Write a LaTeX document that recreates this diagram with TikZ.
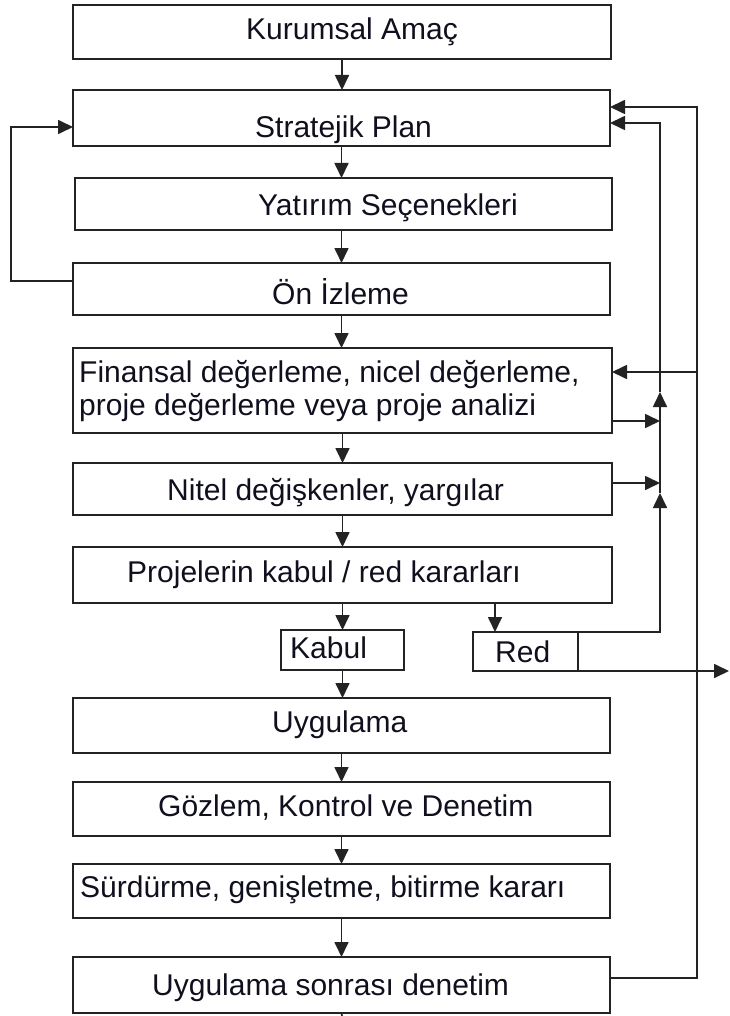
\documentclass[tikz,border=0pt]{standalone}
\usepackage{fontspec}
\setmainfont{Liberation Sans}
\usetikzlibrary{arrows.meta,calc}
\definecolor{linec}{RGB}{35,35,35}
\definecolor{txtc}{RGB}{15,15,30}
\newcommand{\bx}[5]{\node[box, minimum width={#4-#2}, minimum height={#5-#3}] (#1) at ({(#2+#4)/2},{(#3+#5)/2}) {};}
\begin{document}
\begin{tikzpicture}[x=1pt,y=-1pt,
  box/.style={draw=linec, line width=1.7pt, inner sep=0pt, outer sep=0pt, rectangle},
  txt/.style={anchor=base west, inner sep=0pt, font=\fontsize{30}{34}\selectfont, text=txtc},
  arr/.style={draw=linec, line width=1.7pt, -{Triangle[length=15pt,width=14pt]}},
  ln/.style={draw=linec, line width=1.7pt}]
\useasboundingbox (0,0) rectangle (729,1016);
% boxes
\bx{b1}{73}{5}{611}{59}
\bx{b2}{73}{90}{610}{146}
\bx{b3}{75}{178}{612}{230}
\bx{b4}{73}{263}{610}{315}
\bx{b5}{73}{348}{612}{433}
\bx{b6}{73}{463}{612}{515}
\bx{b7}{73}{547}{612}{603}
\bx{kabul}{281}{630}{404}{670}
\bx{red}{473}{632}{578}{671}
\bx{b8}{73}{698}{610}{753}
\bx{b9}{73}{782}{610}{836}
\bx{b10}{73}{864}{610}{918}
\bx{b11}{73}{957}{610}{1013}
% texts
\node[txt] (t1) at (246,40) {Kurumsal Amaç};
\node[txt] (t2) at (255,138) {Stratejik Plan};
\node[txt] (t3) at (258,215) {Yatırım Seçenekleri};
\node[txt] (t4) at (272,304) {Ön İzleme};
\node[txt] (t5a) at (79,382) {Finansal değerleme, nicel değerleme,};
\node[txt] (t5b) at (79,415) {proje değerleme veya proje analizi};
\node[txt] (t6) at (167,500) {Nitel değişkenler, yargılar};
\node[txt] (t7) at (127,582) {Projelerin kabul / red kararları};
\node[txt] (tk) at (290,658) {Kabul};
\node[txt] (tr) at (495,662) {Red};
\node[txt] (t8) at (272,732) {Uygulama};
\node[txt] (t9) at (158,816) {Gözlem, Kontrol ve Denetim};
\node[txt] (t10) at (80,897) {Sürdürme, genişletme, bitirme kararı};
\node[txt] (t11) at (152,995) {Uygulama sonrası denetim};
% coordinates
\coordinate (bottom) at (342,1016);
\coordinate (rout) at (729,671);
\coordinate (o5) at (697,372);
% main vertical arrows
\draw[arr] (b1.south) -- (b1.south |- b2.north);
\draw[arr] (b2.south) -- (b2.south |- b3.north);
\draw[arr] (b3.south -| b2.south) -- (b2.south |- b4.north);
\draw[arr] (b4.south) -- (b4.south |- b5.north);
\draw[arr] (b5.south) -- (b5.south |- b6.north);
\draw[arr] (b6.south) -- (b6.south |- b7.north);
\draw[arr] (b7.south) -- (b7.south |- kabul.north);
\draw[arr] (495,603) -- (495,632);
\draw[arr] (kabul.south) -- (kabul.south |- b8.north);
\draw[arr] (b8.south) -- (b8.south |- b9.north);
\draw[arr] (b9.south) -- (b9.south |- b10.north);
\draw[arr] (b10.south) -- (b10.south |- b11.north);
\draw[ln] (b11.south) -- (bottom);
% left feedback
\draw[arr] (b4.west |- 0,281) -- (11,281) -- (11,127) -- (b2.west |- 0,127);
% outer right loop
\draw[arr] (b11.east |- 0,978) -- (697,978) -- (697,107) -- (b2.east |- 0,107);
\draw[arr] (o5) -- (b5.east |- o5);
% inner right loop
\draw[arr] (red.north east) -- (660,632) -- (660,493);
\draw[arr] (660,493) -- (660,392);
\draw[arr] (660,392) -- (660,123) -- (b2.east |- 0,123);
\draw[arr] (b5.east |- 0,421) -- (660,421);
\draw[arr] (b6.east |- 0,483) -- (660,483);
% red out
\draw[arr] (red.south east) -- (rout);
\end{tikzpicture}
\end{document}
